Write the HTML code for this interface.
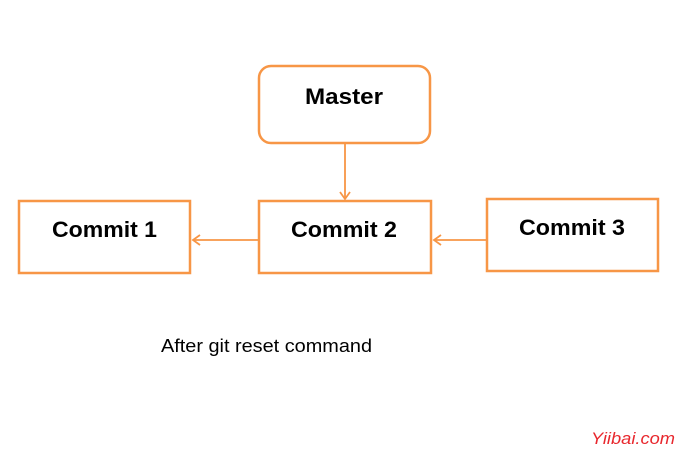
<!DOCTYPE html>
<html><head><style>
body{margin:0;width:677px;height:450px;background:#fff;overflow:hidden}
</style></head><body>
<svg width="677" height="450" xmlns="http://www.w3.org/2000/svg" font-family="Liberation Sans, sans-serif">
<g fill="#fff" stroke="#f79646" stroke-width="2.5">
<rect x="259" y="66" width="171" height="77" rx="12"/>
<rect x="19" y="201" width="171" height="72"/>
<rect x="259" y="201" width="172" height="72"/>
<rect x="487" y="199" width="171" height="72"/>
</g>
<g stroke="#f79646" stroke-width="1.8" fill="none">
<line x1="345" y1="144" x2="345" y2="199"/>
<polyline points="340,192 345,199 350,192"/>
<line x1="258" y1="240" x2="193" y2="240"/>
<polyline points="200,235 193,240 200,245"/>
<line x1="486" y1="240" x2="434" y2="240"/>
<polyline points="441,235 434,240 441,245"/>
</g>
<g font-weight="bold" font-size="22" fill="#000">
<text x="305" y="104" textLength="78" lengthAdjust="spacingAndGlyphs">Master</text>
<text x="52" y="237" textLength="105" lengthAdjust="spacingAndGlyphs">Commit 1</text>
<text x="291" y="237" textLength="106" lengthAdjust="spacingAndGlyphs">Commit 2</text>
<text x="519" y="235" textLength="106" lengthAdjust="spacingAndGlyphs">Commit 3</text>
</g>
<text x="161" y="352" font-size="18" fill="#000" textLength="211" lengthAdjust="spacingAndGlyphs">After git reset command</text>
<text x="591" y="444" font-size="17" font-style="italic" fill="#e8282e" textLength="84" lengthAdjust="spacingAndGlyphs">Yiibai.com</text>
</svg>
</body></html>
